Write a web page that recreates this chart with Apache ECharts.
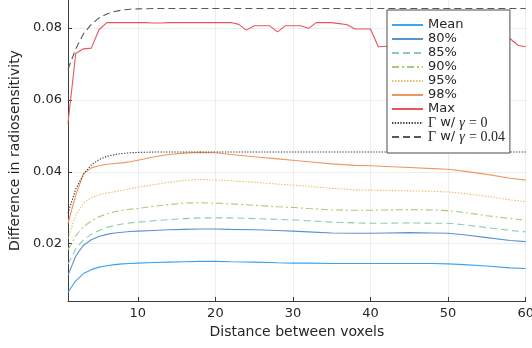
<!DOCTYPE html>
<html>
<head>
<meta charset="utf-8">
<script src="https://cdn.jsdelivr.net/npm/echarts@6/dist/echarts.min.js"></script>
<style>
  html, body { margin: 0; padding: 0; background: #fff; }
  #chart { width: 532px; height: 348px; }
</style>
</head>
<body>
<div id="chart"></div>
<script>
const xs = [1, 2, 3, 4, 5, 6, 7, 8, 9, 10, 12, 14, 16, 18, 20, 22, 25, 28, 30, 32, 35, 38, 40, 42, 45, 48, 50, 52, 55, 58, 60];

const meanVals = [0.0065, 0.0097, 0.0117, 0.0128, 0.0135, 0.0139, 0.0142, 0.0144, 0.0145, 0.0146, 0.0148, 0.0149, 0.0150, 0.0151, 0.0151, 0.0150, 0.0149, 0.0147, 0.0146, 0.0146, 0.0145, 0.0145, 0.0145, 0.0145, 0.0145, 0.0145, 0.0144, 0.0142, 0.0138, 0.0133, 0.0131];
const p80Vals = [0.0112, 0.0166, 0.0196, 0.0211, 0.0220, 0.0226, 0.0230, 0.0232, 0.0234, 0.0235, 0.0237, 0.0239, 0.0240, 0.0241, 0.0241, 0.0240, 0.0239, 0.0237, 0.0235, 0.0233, 0.0230, 0.0229, 0.0229, 0.0230, 0.0231, 0.0230, 0.0229, 0.0225, 0.0217, 0.0209, 0.0206];
const p85Vals = [0.0143, 0.0186, 0.0211, 0.0226, 0.0237, 0.0245, 0.0251, 0.0255, 0.0258, 0.0260, 0.0264, 0.0267, 0.0270, 0.0272, 0.0272, 0.0272, 0.0270, 0.0268, 0.0266, 0.0264, 0.0260, 0.0258, 0.0257, 0.0257, 0.0258, 0.0257, 0.0257, 0.0253, 0.0245, 0.0237, 0.0233];
const p90Vals = [0.0183, 0.0222, 0.0248, 0.0263, 0.0275, 0.0283, 0.0289, 0.0293, 0.0296, 0.0298, 0.0304, 0.0309, 0.0313, 0.0314, 0.0313, 0.0311, 0.0307, 0.0303, 0.0301, 0.0298, 0.0294, 0.0293, 0.0293, 0.0294, 0.0295, 0.0294, 0.0292, 0.0287, 0.0278, 0.0270, 0.0266];
const p95Vals = [0.0215, 0.0280, 0.0313, 0.0328, 0.0336, 0.0341, 0.0345, 0.0349, 0.0353, 0.0357, 0.0364, 0.0371, 0.0376, 0.0379, 0.0377, 0.0375, 0.0371, 0.0366, 0.0363, 0.0360, 0.0354, 0.0350, 0.0349, 0.0348, 0.0347, 0.0346, 0.0344, 0.0340, 0.0332, 0.0322, 0.0317];
const p98Vals = [0.0257, 0.0335, 0.0395, 0.0411, 0.0417, 0.0421, 0.0423, 0.0425, 0.0428, 0.0432, 0.0441, 0.0448, 0.0452, 0.0454, 0.0453, 0.0448, 0.0442, 0.0436, 0.0432, 0.0428, 0.0422, 0.0418, 0.0417, 0.0415, 0.0412, 0.0409, 0.0407, 0.0402, 0.0393, 0.0382, 0.0377];
const gamma0Vals = [0.0285, 0.0352, 0.0393, 0.0419, 0.0434, 0.0443, 0.0448, 0.0451, 0.0453, 0.0454, 0.0455, 0.0455, 0.0455, 0.0455, 0.0455, 0.0455, 0.0455, 0.0455, 0.0455, 0.0455, 0.0455, 0.0455, 0.0455, 0.0455, 0.0455, 0.0455, 0.0455, 0.0455, 0.0455, 0.0455, 0.0455];
const gamma04Vals = [0.0685, 0.0742, 0.0784, 0.0810, 0.0828, 0.0839, 0.0846, 0.0850, 0.0852, 0.0853, 0.0854, 0.0854, 0.0854, 0.0854, 0.0854, 0.0854, 0.0854, 0.0854, 0.0854, 0.0854, 0.0854, 0.0854, 0.0854, 0.0854, 0.0854, 0.0854, 0.0854, 0.0854, 0.0854, 0.0854, 0.0854];

// the max curve has kinks, so it is read at every distance
const maxX = [1, 2, 3, 4, 5, 6, 7, 8, 9, 10, 11, 12, 13, 14, 15, 16, 17, 18, 19, 20, 21, 22, 23, 24, 25, 26, 27, 28, 29, 30, 31, 32, 33, 34, 35, 36, 37, 38, 39, 40, 41, 43, 47, 52, 56, 57, 58, 59, 60];
const maxVals = [0.0535, 0.0729, 0.0742, 0.0744, 0.0795, 0.0815, 0.0815, 0.0815, 0.0815, 0.0815, 0.0815, 0.0814, 0.0814, 0.0815, 0.0815, 0.0815, 0.0815, 0.0815, 0.0815, 0.0815, 0.0815, 0.0815, 0.0810, 0.0794, 0.0806, 0.0806, 0.0806, 0.0789, 0.0806, 0.0806, 0.0806, 0.0799, 0.0815, 0.0815, 0.0815, 0.0812, 0.0809, 0.0797, 0.0797, 0.0797, 0.0748, 0.0750, 0.0755, 0.0762, 0.0770, 0.0770, 0.0770, 0.0752, 0.0748];

const xTicks = [10, 20, 30, 40, 50, 60];
const yTicks = [0.02, 0.04, 0.06, 0.08];

const names = ['Mean', '80%', '85%', '90%', '95%', '98%', 'Max', 'Γ w/ γ = 0', 'Γ w/ γ = 0.04'];

const FONT = 'DejaVu Sans';
const TXT = '#262626';
const AXIS = '#3c3c3c';

function pairs(x, y) {
  return x.map((v, i) => [v, y[i]]);
}

function line(name, x, y, color, type) {
  return {
    name: name,
    type: 'line',
    data: pairs(x, y),
    symbol: 'none',
    smooth: false,
    silent: true,
    lineStyle: { color: color, width: 1.1, type: type || 'solid' },
    itemStyle: { color: color },
    emphasis: { disabled: true }
  };
}

const chart = echarts.init(document.getElementById('chart'), null, { renderer: 'canvas' });

const option = {
  animation: false,
  backgroundColor: '#fff',
  textStyle: { fontFamily: FONT },
  grid: {
    left: 68, right: 6.3, top: 0, bottom: 47,
    containLabel: false,
    outerBoundsMode: 'none'
  },
  xAxis: {
    type: 'value',
    min: 1, max: 60,
    name: 'Distance between voxels',
    nameLocation: 'middle',
    nameGap: 22,
    nameTextStyle: { fontFamily: FONT, fontSize: 14, color: TXT },
    axisLine: { show: true, lineStyle: { color: AXIS, width: 1 } },
    axisTick: { show: true, inside: true, length: 4, customValues: xTicks, lineStyle: { color: AXIS } },
    axisLabel: { customValues: xTicks, fontFamily: FONT, fontSize: 13, color: TXT, margin: 6, hideOverlap: false },
    splitLine: { show: true, lineStyle: { color: 'rgba(0,0,0,0.07)', width: 1 } }
  },
  yAxis: {
    type: 'value',
    min: 0.00408, max: 0.08778,
    name: 'Difference in radiosensitivity',
    nameLocation: 'middle',
    nameGap: 38,
    nameTextStyle: { fontFamily: FONT, fontSize: 14, color: TXT },
    axisLine: { show: true, lineStyle: { color: AXIS, width: 1 } },
    axisTick: { show: true, inside: true, length: 4, customValues: yTicks, lineStyle: { color: AXIS } },
    axisLabel: {
      customValues: yTicks, fontFamily: FONT, fontSize: 13, color: TXT, margin: 6,
      formatter: v => v.toFixed(2)
    },
    splitLine: { show: true, lineStyle: { color: 'rgba(0,0,0,0.07)', width: 1 } }
  },
  legend: {
    show: true,
    orient: 'vertical',
    left: 387, top: 10,
    padding: [8, 5, 9, 4],
    itemWidth: 31, itemHeight: 14, itemGap: 0,
    backgroundColor: '#fff',
    borderColor: '#4a4a4a', borderWidth: 1,
    selectedMode: false,
    data: names,
    itemStyle: { opacity: 0 },
    textStyle: {
      fontFamily: FONT, fontSize: 13, color: TXT, lineHeight: 14,
      rich: {
        g: { fontFamily: 'Liberation Serif', fontSize: 14, color: TXT },
        i: { fontFamily: 'Liberation Serif', fontStyle: 'italic', fontSize: 14, color: TXT }
      }
    },
    formatter: function (name) {
      if (name === names[7]) return '{g|Γ} w/ {i|γ} {g|= 0}';
      if (name === names[8]) return '{g|Γ} w/ {i|γ} {g|= 0.04}';
      return name;
    }
  },
  series: [
    line(names[0], xs, meanVals, '#3aa3f3'),
    line(names[1], xs, p80Vals, '#5a93cf'),
    line(names[2], xs, p85Vals, '#8acdb0', [7, 4]),
    line(names[3], xs, p90Vals, '#a8cd6e', [7, 3, 2, 3]),
    line(names[4], xs, p95Vals, '#e8c064', [1.5, 1.5]),
    line(names[5], xs, p98Vals, '#f09663'),
    line(names[6], maxX, maxVals, '#e8555b'),
    line(names[7], xs, gamma0Vals, '#383838', [1.3, 1.5]),
    line(names[8], xs, gamma04Vals, '#585858', [7, 4])
  ]
};

chart.setOption(option);
</script>
</body>
</html>
